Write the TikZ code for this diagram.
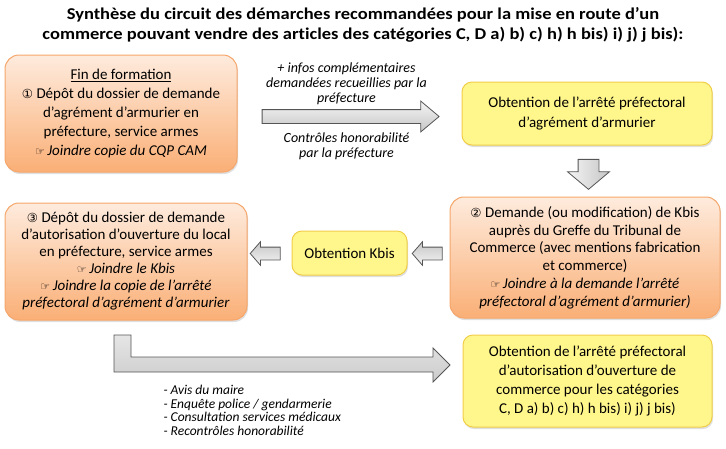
\documentclass[tikz,border=0pt]{standalone}
\usepackage{fontspec}
\setmainfont{Carlito}
\newfontfamily\titlefont{Carlito}[FakeStretch=1.12,Ligatures=NoCommon]
\newfontfamily\symfont{DejaVu Sans}
\usetikzlibrary{shapes.arrows,shadows,positioning}

\definecolor{orangeline}{HTML}{F5A66B}
\definecolor{orangetop}{HTML}{FEEBDD}
\definecolor{orangebot}{HTML}{FAAF76}
\definecolor{yellowfill}{HTML}{FFF68C}
\definecolor{yellowline}{HTML}{F0CE48}
\definecolor{arrowline}{HTML}{555555}
\newcommand{\hand}{{\symfont\fontsize{11}{11}\selectfont ☞}\,}
\newcommand{\circnum}[1]{{\symfont\fontsize{12.5}{12.5}\selectfont #1}}

\begin{document}
\begin{tikzpicture}[x=1pt,y=-1pt,
  orangebox/.style={draw=orangeline,line width=1pt,rounded corners=14pt,
    top color=orangetop,bottom color=orangebot,align=center,inner sep=2pt,
    drop shadow={opacity=0.25,shadow xshift=1pt,shadow yshift=-2pt}},
  yellowbox/.style={draw=yellowline,line width=1pt,rounded corners=10pt,
    fill=yellowfill,align=center,inner sep=2pt,
    drop shadow={opacity=0.25,shadow xshift=1pt,shadow yshift=-2pt}},
  blockarrow/.style={single arrow,draw=arrowline,line width=0.8pt,
    inner xsep=0pt,single arrow head indent=0pt},
  note/.style={font=\itshape\fontsize{14}{15}\selectfont,align=center}]
  \useasboundingbox (0,0) rectangle (726,448);

  % title
  \node[font=\titlefont\bfseries\fontsize{16.5}{20}\selectfont,align=center] (title) at (363,25)
       {Synthèse du circuit des démarches recommandées pour la mise en route d’un\\
        commerce pouvant vendre des articles des catégories C, D a) b) c) h) h bis) i) j) j bis):};

  % boxes
  \node[orangebox,minimum width=232pt,minimum height=117pt,
        font=\fontsize{15}{19}\selectfont] (fin) at (121,113.5)
       {\underline{Fin de formation}\\
        \circnum{①} Dépôt du dossier de demande\\
        d’agrément d’armurier en\\
        préfecture, service armes\\
        \hand\textit{Joindre copie du CQP CAM}};
  \node[yellowbox,minimum width=250pt,minimum height=63pt,
        font=\fontsize{15}{19.5}\selectfont] (agrement) at (587,113.5)
       {Obtention de l’arrêté préfectoral\\d’agrément d’armurier};
  \node[orangebox,minimum width=270pt,minimum height=121pt,
        font=\fontsize{15}{17.8}\selectfont] (kbisreq) at (585,257.5)
       {\circnum{②} Demande (ou modification) de Kbis\\
        auprès du Greffe du Tribunal de\\
        Commerce (avec mentions fabrication\\
        et commerce)\\
        \hand\textit{Joindre à la demande l’arrêté}\\
        \textit{préfectoral d’agrément d’armurier)}};
  \node[yellowbox,minimum width=115pt,minimum height=44pt,
        font=\fontsize{15}{19}\selectfont] (kbis) at (349.5,253)
       {Obtention Kbis};
  \node[orangebox,minimum width=242pt,minimum height=117pt,
        font=\fontsize{15}{17}\selectfont] (local) at (126,261.5)
       {\circnum{③} Dépôt du dossier de demande\\
        d’autorisation d’ouverture du local\\
        en préfecture, service armes\\
        \hand\textit{Joindre le Kbis}\\
        \hand\textit{Joindre la copie de l’arrêté}\\
        \textit{préfectoral d’agrément d’armurier}};
  \node[yellowbox,minimum width=249pt,minimum height=92pt,
        font=\fontsize{15}{19}\selectfont] (ouverture) at (587.5,381)
       {Obtention de l’arrêté préfectoral\\
        d’autorisation d’ouverture de\\
        commerce pour les catégories\\
        C, D a) b) c) h) h bis) i) j) j bis)};

  % block arrows
  \node[blockarrow,top color=gray!8,bottom color=gray!45,inner ysep=6.5pt,
        single arrow head extend=8.5pt,single arrow tip angle=80,
        minimum height=177pt] (a1) at (346.5,116.5) {};
  \node[blockarrow,left color=gray!8,right color=gray!45,inner ysep=10pt,
        single arrow head extend=10.5pt,single arrow tip angle=100,
        minimum height=30pt,rotate=-90] (a2) at (588.5,170) {};
  \foreach \name/\xx in {a3/430,a4/268}
    \node[blockarrow,top color=gray!45,bottom color=gray!8,inner ysep=6pt,
          single arrow head extend=5.5pt,single arrow tip angle=98,
          minimum height=30pt,rotate=180] (\name) at (\xx,253.5) {};
  \draw[draw=arrowline,line width=0.8pt,top color=gray!20,bottom color=gray!40]
       (114,335) -- (131,335) -- (131,357) -- (433,357) -- (433,348)
       -- (450,365) -- (433,382) -- (433,372) -- (114,372) -- cycle;

  % arrow notes
  \node[note,above=1pt of a1] (infos)
       {+ infos complémentaires\\demandées recueillies par la\\préfecture};
  \node[note,below=5pt of a1] (controles)
       {Contrôles honorabilité\\par la préfecture};
  \node[note,align=left,font=\itshape\fontsize{13.5}{13.5}\selectfont,anchor=north west]
       (avis) at (160,382)
       {- Avis du maire\\
        - Enquête police / gendarmerie\\
        - Consultation services médicaux\\
        - Recontrôles honorabilité};
\end{tikzpicture}
\end{document}
